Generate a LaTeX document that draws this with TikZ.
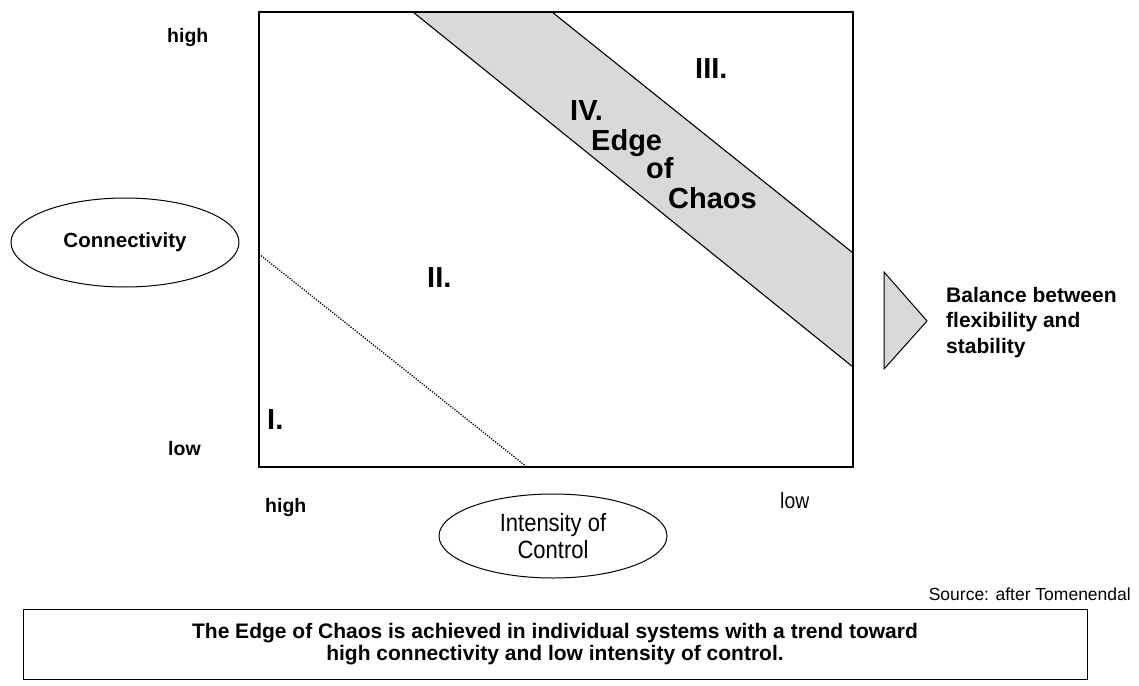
\documentclass[tikz,border=0pt]{standalone}
\usepackage{fontspec}
\setmainfont{Liberation Sans}
\newfontfamily\narrowfont[FakeStretch=0.88]{Liberation Sans}
\usetikzlibrary{shapes.geometric}
\begin{document}
\begin{tikzpicture}[x=1pt,y=-1pt]
\tikzstyle{every node}+=[inner sep=0pt]
\tikzstyle{axislabel}=[anchor=base west, font=\bfseries\fontsize{19.5}{24}\selectfont]
\tikzstyle{regionlabel}=[anchor=base west, font=\bfseries\fontsize{29}{29}\selectfont]
\tikzstyle{axisname}=[draw, ellipse, line width=1pt, minimum width=228pt, align=center]
\useasboundingbox (0,0) rectangle (1139,685);
% diagram frame and the edge of chaos band
\coordinate (nw) at (259,12);
\coordinate (se) at (853,467);
\fill [black!15] (413,12) -- (552,12) -- (853,253) -- (853,367) -- cycle;
\draw [black, line width=1.1pt] (413,12) -- (853,367);
\draw [black, line width=1.1pt] (552,12) -- (853,253);
\draw [black, line width=1.3pt, dash pattern=on 1.2pt off 1.4pt] (259,254) -- (527,467);
\draw [black, line width=1.3pt] (nw) rectangle (se);
% region labels
\node [regionlabel] (reg1) at (267,429) {I.};
\node [regionlabel] (reg2) at (427,287) {II.};
\node [regionlabel] (reg3) at (695,78) {III.};
\node [regionlabel] (reg4) at (570,120) {IV.};
\node [regionlabel] (edge) at (591,150) {Edge};
\node [regionlabel] (of) at (646,178) {of};
\node [regionlabel] (chaos) at (668,208) {Chaos};
% axes
\node [axislabel] (conhigh) at (167,42) {high};
\node [axislabel] (conlow) at (168,455) {low};
\node [axislabel] (ctrlhigh) at (265,512) {high};
\node [anchor=base west, font=\narrowfont\fontsize{22}{24}\selectfont] (ctrllow) at (780,508) {low};
\node [axisname, minimum height=89pt, font=\bfseries\fontsize{20.5}{24}\selectfont] (connectivity) at (125,242.5) {Connectivity};
\node [axisname, minimum height=84pt, font=\narrowfont\fontsize{25}{27}\selectfont] (intensity) at (553,536) {Intensity of\\Control};
% balance
\draw [black, line width=1pt, fill=black!15] (884,272) -- (927,321) -- (884,369) -- cycle;
\node [anchor=north west, align=left, font=\bfseries\fontsize{21}{25.5}\selectfont] (balance) at (946,287) {Balance between\\flexibility and\\stability};
% source and summary
\node [anchor=base east, font=\fontsize{17.5}{20}\selectfont] (source) at (1131,600) {Source: after Tomenendal};
\node [draw, line width=1pt, minimum width=1064pt, minimum height=70pt, align=center, font=\bfseries\fontsize{21}{21.5}\selectfont] (summary) at (555,644) {The Edge of Chaos is achieved in individual systems with a trend toward\\high connectivity and low intensity of control.};
\end{tikzpicture}
\end{document}
